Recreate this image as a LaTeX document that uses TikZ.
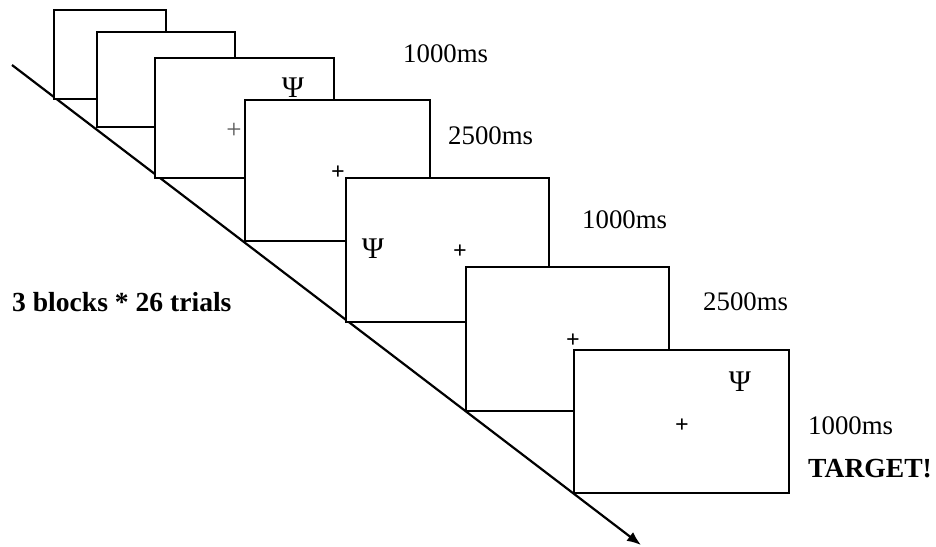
\documentclass[tikz,border=0pt]{standalone}
\usepackage{fontspec}
\setmainfont{Liberation Serif}
\usetikzlibrary{positioning,arrows.meta}

\tikzset{
  screen/.style={draw,line width=2.2pt,fill=white,anchor=south west,inner sep=0pt},
  dur/.style={anchor=base west,inner sep=0pt,font=\fontsize{26.8}{30}\selectfont},
  bolddur/.style={dur,font=\fontsize{27.6}{30}\selectfont\bfseries},
  cue/.style={inner sep=0pt,font=\fontsize{30}{32}\selectfont},
  fix/.style={inner sep=0pt,font=\fontsize{24}{26}\selectfont\bfseries},
  fixthin/.style={inner sep=0pt,text=black!65,font=\fontsize{27}{28}\selectfont}
}

\begin{document}
\begin{tikzpicture}[x=1pt,y=-1pt]
                            \useasboundingbox (0,0) rectangle (936,546);
                            % \draw[help lines] (0,0) grid (936,546);

                            \coordinate (start) at (12,65);
                            \coordinate (tip)   at (641,545);
                            \draw[-{Latex[length=14pt,width=11pt]},line width=2.2pt] (start) -- (tip);

                            \node[screen,minimum width=112pt,minimum height=89pt]  (s1) at (53,100)  {};
                            \node[screen,minimum width=138pt,minimum height=95pt]  (s2) at (96,128)  {};
                            \node[screen,minimum width=179pt,minimum height=120pt] (s3) at (154,179) {};
                            \node[cue]     (psi1)  at (293,88)  {Ψ};
                            \node[fixthin] (plus1) at (234,131) {+};
                            \node[screen,minimum width=185pt,minimum height=141pt] (s4) at (244,242) {};
                            \node[fix]     (plus2) at (338,173) {+};
                            \node[screen,minimum width=203pt,minimum height=144pt] (s5) at (345,323) {};
                            \node[cue]     (psi2)  at (373,249) {Ψ};
                            \node[fix]     (plus3) at (460,252) {+};
                            \node[screen,minimum width=203pt,minimum height=144pt] (s6) at (465,412) {};
                            \node[fix]     (plus4) at (573,341) {+};
                            \node[screen,minimum width=215pt,minimum height=143pt] (s7) at (573,494) {};
                            \node[cue]     (psi3)  at (740,382) {Ψ};
                            \node[fix]     (plus5) at (682,426) {+};

                            \node[dur] (d1) at (403,62)  {1000ms};
                            \node[dur] (d2) at (448,144) {2500ms};
                            \node[dur] (d3) at (582,228) {1000ms};
                            \node[dur] (d4) at (703,310) {2500ms};
                            \node[dur] (d5) at (808,434) {1000ms};
                            \node[bolddur] (target) at (808,477) {TARGET!};
                            \node[bolddur] (blocks) at (12,311) {3 blocks * 26 trials};
                        \end{tikzpicture}
\end{document}
